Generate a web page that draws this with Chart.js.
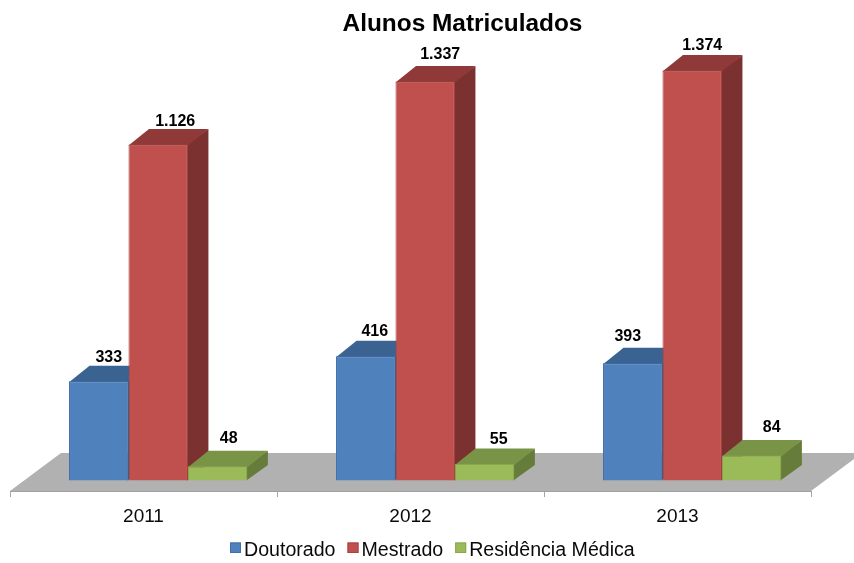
<!DOCTYPE html>
<html><head><meta charset="utf-8">
<style>html,body{margin:0;padding:0;background:#fff}#w{width:854px;height:563px}</style>
<script src="https://cdn.jsdelivr.net/npm/chart.js@4"></script>
</head><body><div id="w"><canvas id="c" width="854" height="563"></canvas></div>
<script>
const years = ['2011','2012','2013'];
const doutorado = [333,416,393];
const mestrado = [1126,1337,1374];
const residencia = [48,55,84];
const seriesNames = ['Doutorado','Mestrado','Residência Médica'];
const titleText = 'Alunos Matriculados';
const FONT = '"Liberation Sans", Arial, sans-serif';
const front = ['#4F81BD','#C0504D','#9BBB59'];
const edge = ['#4170A8','#A84542','#8AA74E'];
const topFace = ['#3B6392','#8F3A38','#7A9447'];
const sideFace = ['#33557E','#7B3130','#667C3A'];
const labelShift = [[[10,2],[9,1],[-5,-1]],[[17,3],[15,-1],[10,1]],[[11,-2],[14,2],[20,-2]]];
const fmt = v => String(v).replace(/\B(?=(\d{3})+$)/g,'.');
const plug3d = {
  id:'plug3d',
  afterLayout(chart){
    const t = chart.titleBlock;
    t.left += 52; t.right += 52;
  },
  beforeDatasetDraw(){ return false; },
  beforeDatasetsDraw(chart){
    const ctx = chart.ctx, a = chart.chartArea, ys = chart.scales.y;
    const base = ys.getPixelForValue(0);
    ctx.save();
    ctx.fillStyle = '#B1B1B1';
    ctx.beginPath();
    ctx.moveTo(a.left, base);
    ctx.lineTo(a.left+51, base-38);
    ctx.lineTo(a.right+51, base-38);
    ctx.lineTo(a.right, base);
    ctx.closePath(); ctx.fill();
    ctx.restore();
    const dx = 20.5, dy = -15.5;
    chart.data.datasets.forEach((ds,i)=>{
      const meta = chart.getDatasetMeta(i);
      ctx.save();
      ctx.translate(14.7,-10.5);
      meta.data.forEach(el=>{
        const p = el.getProps(['x','y','base','width'],true);
        const l = p.x-p.width/2, r = p.x+p.width/2;
        ctx.fillStyle = sideFace[i];
        ctx.beginPath();
        ctx.moveTo(r-1,p.y); ctx.lineTo(r+dx,p.y+dy); ctx.lineTo(r+dx,p.base+dy); ctx.lineTo(r-1,p.base);
        ctx.closePath(); ctx.fill();
        ctx.fillStyle = topFace[i];
        ctx.beginPath();
        ctx.moveTo(l,p.y+1); ctx.lineTo(l+dx,p.y+dy); ctx.lineTo(r+dx,p.y+dy); ctx.lineTo(r,p.y+1);
        ctx.closePath(); ctx.fill();
      });
      meta.controller.draw();
      ctx.fillStyle = '#000';
      ctx.font = 'bold 16px '+FONT;
      ctx.textAlign='center'; ctx.textBaseline='middle';
      meta.data.forEach((el,j)=>{
        const p = el.getProps(['x','y'],true);
        ctx.fillText(fmt(ds.data[j]), p.x+labelShift[i][j][0], p.y-26+labelShift[i][j][1]);
      });
      ctx.restore();
    });
  },
  afterDraw(chart){
    const ctx = chart.ctx;
    ctx.save();
    ctx.font = '19.6px '+FONT;
    ctx.textAlign='left'; ctx.textBaseline='alphabetic';
    let x = 230;
    chart.data.datasets.forEach((ds,i)=>{
      ctx.fillStyle = front[i];
      ctx.fillRect(x,542.5,11,10.5);
      ctx.strokeStyle = edge[i]; ctx.lineWidth=1;
      ctx.strokeRect(x+.5,543,10,9.5);
      ctx.fillStyle = '#0a0a0a';
      ctx.fillText(ds.label, x+14, 555.5);
      x += 14 + ctx.measureText(ds.label).width + 12;
    });
    ctx.restore();
  }
};
new Chart(document.getElementById('c'),{
  type:'bar',
  data:{labels:years,datasets:[doutorado,mestrado,residencia].map((d,i)=>({
    label:seriesNames[i],data:d,backgroundColor:front[i],borderColor:edge[i],borderWidth:1,
    categoryPercentage:0.668,barPercentage:1,clip:false
  }))},
  options:{
    responsive:false,animation:false,
    layout:{padding:{left:10,right:43,top:0,bottom:26}},
    plugins:{
      legend:{display:false},tooltip:{enabled:false},
      title:{display:true,text:titleText,color:'#000',font:{family:FONT,size:24.4,weight:'bold',lineHeight:1.2},padding:{top:9.5,bottom:4.6}}
    },
    scales:{
      x:{grid:{drawOnChartArea:false,drawTicks:true,tickLength:6,color:'#A6A6A6'},border:{color:'#A0A0A0'},
         ticks:{color:'#0a0a0a',font:{family:FONT,size:19,lineHeight:1.2},padding:8.6,maxRotation:0}},
      y:{display:false,min:0,max:1500}
    }
  },
  plugins:[plug3d]
});
</script></body></html>
